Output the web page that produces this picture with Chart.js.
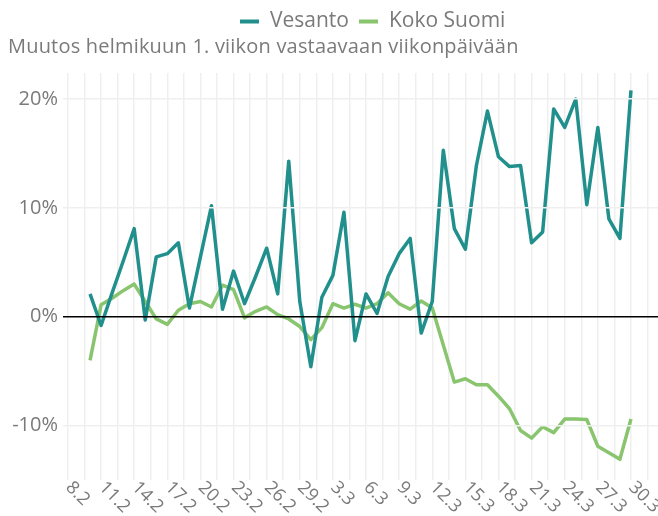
<!DOCTYPE html>
<html>
<head>
<meta charset="utf-8">
<script src="https://cdn.jsdelivr.net/npm/chart.js@4/dist/chart.umd.min.js"></script>
<style>
  html, body { margin: 0; padding: 0; background: #fff; }
  #wrap { width: 658px; height: 516px; }
</style>
</head>
<body>
<div id="wrap"><canvas id="chart" width="658" height="516"></canvas></div>
<script>
// all days on the x axis, 8.2 - 30.3 (2020, leap year)
const days = ['8.2', '9.2', '10.2', '11.2', '12.2', '13.2', '14.2', '15.2', '16.2', '17.2',
    '18.2', '19.2', '20.2', '21.2', '22.2', '23.2', '24.2', '25.2', '26.2', '27.2', '28.2', '29.2',
    '1.3', '2.3', '3.3', '4.3', '5.3', '6.3', '7.3', '8.3', '9.3', '10.3', '11.3', '12.3', '13.3',
    '14.3', '15.3', '16.3', '17.3', '18.3', '19.3', '20.3', '21.3', '22.3', '23.3', '24.3', '25.3',
    '26.3', '27.3', '28.3', '29.3', '30.3'];

// series start on 10.2
const firstDay = '10.2';

const vesanto = [2.1, -0.8, 2.2, 5.1, 8.1, -0.3, 5.5, 5.8, 6.8, 0.8,
    5.5, 10.2, 0.7, 4.2, 1.2, 3.7, 6.3, 2.1, 14.3, 1.4,
    -4.6, 1.8, 3.8, 9.6, -2.2, 2.1, 0.3, 3.7, 5.8, 7.2,
    -1.5, 1.4, 15.3, 8.1, 6.2, 13.9, 18.9, 14.7, 13.8, 13.9,
    6.8, 7.8, 19.1, 17.4, 20.0, 10.3, 17.4, 9.0, 7.2, 20.8];

const kokoSuomi = [-4.0, 1.1, 1.7, 2.4, 3.0, 1.4, -0.2, -0.7, 0.6, 1.2,
    1.4, 0.9, 2.9, 2.5, -0.1, 0.5, 0.9, 0.2, -0.2, -0.9,
    -2.1, -1.0, 1.2, 0.8, 1.15, 0.8, 1.2, 2.2, 1.2, 0.7,
    1.45, 0.8, -2.6, -6.0, -5.7, -6.25, -6.25, -7.3, -8.45, -10.45,
    -11.15, -10.1, -10.65, -9.4, -9.4, -9.45, -11.9, -12.5, -13.1, -9.4];

const xTickLabels = ['8.2', '11.2', '14.2', '17.2', '20.2', '23.2', '26.2', '29.2',
    '3.3', '6.3', '9.3', '12.3', '15.3', '18.3', '21.3', '24.3', '27.3', '30.3'];
const yTicks = [-10, 0, 10, 20];

const seriesNames = ['Vesanto', 'Koko Suomi'];
const subtitle = 'Muutos helmikuun 1. viikon vastaavaan viikonpäivään';

const FONT = '"Open Sans", Lato, sans-serif';
const GREY_TEXT = '#7a7a7a';
const GRID = '#efefef';

const offset = days.indexOf(firstDay);
const toPoints = values => values.map((v, i) => ({ x: i + offset, y: v }));

// legend, subtitle and the slanted day labels
const decorations = {
    id: 'decorations',
    afterDraw(chart) {
        const ctx = chart.ctx;
        const xScale = chart.scales.x;
        ctx.save();

        // legend
        ctx.font = '21px ' + FONT;
        ctx.textBaseline = 'middle';
        ctx.textAlign = 'left';
        let lx = 240;
        chart.data.datasets.forEach(ds => {
            ctx.fillStyle = ds.borderColor;
            ctx.fillRect(lx, 19.5, 19, 4);
            lx += 30;
            ctx.fillStyle = GREY_TEXT;
            ctx.fillText(ds.label, lx, 21);
            lx += ctx.measureText(ds.label).width + 10;
        });

        // subtitle
        ctx.font = '20px ' + FONT;
        ctx.letterSpacing = '0.2px';
        ctx.fillStyle = GREY_TEXT;
        ctx.fillText(subtitle, 8, 47);
        ctx.letterSpacing = '0px';

        // x labels, rotated down to the right
        ctx.font = '18px ' + FONT;
        xTickLabels.forEach(lbl => {
            const x = xScale.getPixelForValue(days.indexOf(lbl));
            ctx.save();
            ctx.translate(x, 484);
            ctx.rotate(Math.PI / 4);
            ctx.textAlign = 'left';
            ctx.textBaseline = 'middle';
            ctx.fillText(lbl, 1, 0);
            ctx.restore();
        });

        ctx.restore();
    }
};

new Chart(document.getElementById('chart'), {
    type: 'line',
    data: {
        datasets: [{
            label: seriesNames[0],
            data: toPoints(vesanto),
            borderColor: '#21908C',
            borderWidth: 3.5,
            borderJoinStyle: 'round',
            pointRadius: 0,
            tension: 0
        }, {
            label: seriesNames[1],
            data: toPoints(kokoSuomi),
            borderColor: '#89C46E',
            borderWidth: 3.5,
            borderJoinStyle: 'round',
            pointRadius: 0,
            tension: 0
        }]
    },
    options: {
        responsive: false,
        animation: false,
        layout: { padding: { top: 73, left: 0, right: 0, bottom: 0 } },
        plugins: {
            legend: { display: false },
            title: { display: false },
            tooltip: { enabled: false }
        },
        scales: {
            x: {
                type: 'linear',
                min: -0.45,
                max: 53.45,
                afterBuildTicks: scale => {
                    const t = [];
                    for (let v = 0; v <= 52.5; v += 1.5) t.push({ value: v });
                    scale.ticks = t;
                },
                afterFit: scale => { scale.height = 36; },
                ticks: { display: false },
                grid: { color: GRID, lineWidth: 1.5, drawTicks: false },
                border: { display: false }
            },
            y: {
                min: -15,
                max: 22.4,
                afterBuildTicks: scale => {
                    scale.ticks = yTicks.map(v => ({ value: v }));
                },
                afterFit: scale => { scale.width = 63; },
                ticks: {
                    color: GREY_TEXT,
                    font: { family: FONT, size: 20 },
                    padding: 5,
                    callback: v => v + '%'
                },
                grid: {
                    color: ctx => ctx.tick && ctx.tick.value === 0 ? '#000000' : GRID,
                    lineWidth: 1.5,
                    drawTicks: false,
                    z: 1
                },
                border: { display: false }
            }
        }
    },
    plugins: [decorations]
});
</script>
</body>
</html>
